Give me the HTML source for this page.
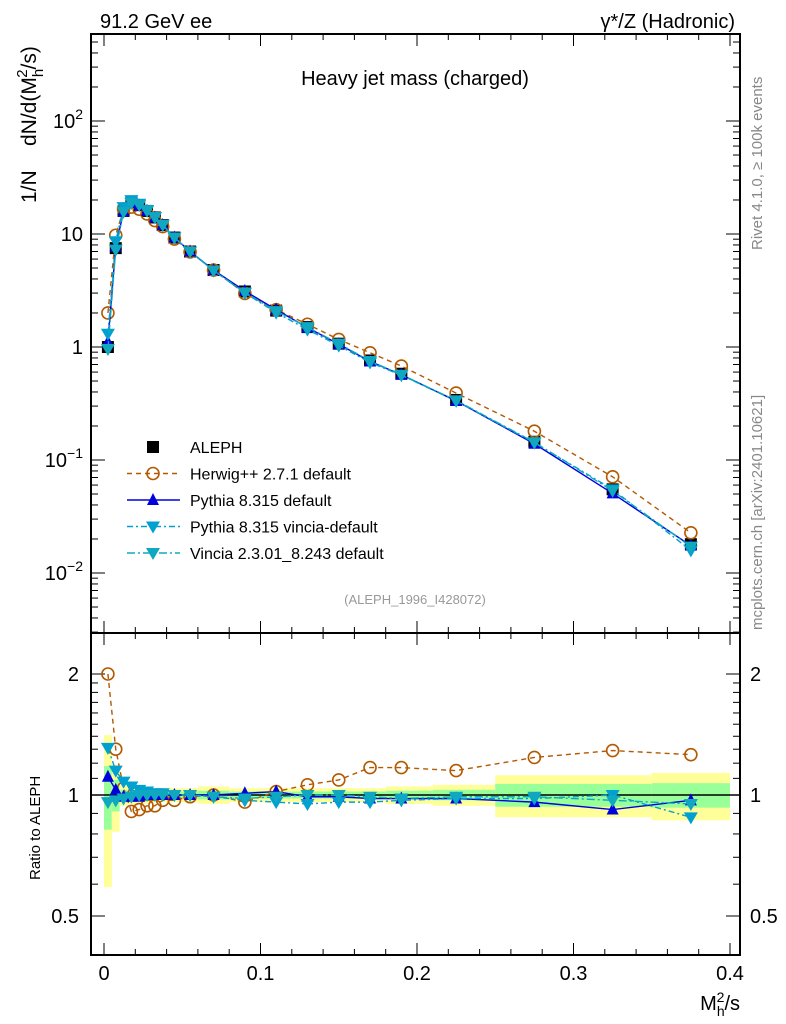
<!DOCTYPE html>
<html><head><meta charset="utf-8">
<style>
body{margin:0;background:#fff;}
svg{display:block;font-family:"Liberation Sans",sans-serif;}
</style></head>
<body>
<svg id="chart" width="786" height="1024" viewBox="0 0 786 1024" xmlns="http://www.w3.org/2000/svg">
<text x="100" y="28" font-size="20">91.2 GeV ee</text>
<text x="735" y="28" font-size="20" text-anchor="end">γ*/Z (Hadronic)</text>
<text x="415" y="85" font-size="20" text-anchor="middle">Heavy jet mass (charged)</text>
<text x="415" y="604" font-size="13" fill="#999" text-anchor="middle">(ALEPH_1996_I428072)</text>
<text transform="translate(762,250) rotate(-90)" font-size="15" fill="#888">Rivet 4.1.0, ≥ 100k events</text>
<text transform="translate(762,630) rotate(-90)" font-size="15" fill="#888">mcplots.cern.ch [arXiv:2401.10621]</text>
<g transform="translate(36,203) rotate(-90)">
<text x="0" y="0" font-size="21">1/N</text>
<text x="57" y="0" font-size="21">dN/d(M<tspan dy="7" font-size="15">h</tspan><tspan dy="-16" dx="-9" font-size="15">2</tspan><tspan dy="9">/s)</tspan></text>
</g>
<text transform="translate(40,880) rotate(-90)" font-size="15">Ratio to ALEPH</text>
<text x="740" y="1010" font-size="20" text-anchor="end">M<tspan dy="6" font-size="14">h</tspan><tspan dy="-14" dx="-8" font-size="14">2</tspan><tspan dy="8">/s</tspan></text>
<g id="g"></g>
</svg>
<script>
const xs=[0.0025,0.0075,0.0125,0.0175,0.0225,0.0275,0.0325,0.0375,0.045,0.055,0.07,0.09,0.11,0.13,0.15,0.17,0.19,0.225,0.275,0.325,0.375];
const aleph=[1.0,7.5,16,19,18,16,14,12,9.3,7,4.8,3.1,2.1,1.5,1.07,0.76,0.58,0.34,0.145,0.055,0.018];
const herwigRatio=[2.0,1.3,1.04,0.91,0.92,0.94,0.94,0.97,0.97,0.99,1.0,0.96,1.02,1.06,1.09,1.17,1.17,1.15,1.24,1.29,1.26];
const pythiaRatio=[1.11,1.03,0.99,0.99,0.99,1.0,1.0,1.0,1.0,1.0,1.0,1.01,1.02,0.99,0.99,0.98,0.98,0.98,0.96,0.92,0.97];
const vdefRatio=[1.31,1.15,1.08,1.05,1.03,1.02,1.01,1.01,1.0,1.0,0.99,0.97,0.96,0.95,0.96,0.96,0.97,0.98,0.98,1.0,0.88];
const vinciaRatio=[0.96,0.97,0.98,0.99,1.0,1.0,1.0,1.0,1.0,1.0,0.99,0.98,0.99,1.0,1.0,0.99,0.98,0.99,0.99,0.97,0.95];
const binEdges=[0,0.005,0.01,0.015,0.02,0.025,0.03,0.035,0.04,0.05,0.06,0.08,0.10,0.12,0.14,0.16,0.18,0.21,0.25,0.30,0.35,0.40];
const yellowHalf=[0.41,0.19,0.06,0.05,0.05,0.05,0.04,0.04,0.04,0.04,0.05,0.04,0.04,0.04,0.04,0.04,0.05,0.06,0.12,0.12,0.135];
const greenHalf=[0.18,0.09,0.03,0.025,0.025,0.025,0.02,0.02,0.02,0.02,0.025,0.02,0.02,0.02,0.02,0.02,0.025,0.03,0.065,0.065,0.07];
const xTicks=[0,0.1,0.2,0.3,0.4];
const xTickLabels=["0","0.1","0.2","0.3","0.4"];

const NS="http://www.w3.org/2000/svg";
const g=document.getElementById('g');
const L=91,R=740,T=34,MB=633,RB=955;
const X=v=>104+v*1565;
const Y=v=>347-113*Math.log10(v);
const YR=v=>795-121*Math.log2(v);
function el(tag,attrs,parent){const e=document.createElementNS(NS,tag);for(const k in attrs)e.setAttribute(k,attrs[k]);(parent||g).appendChild(e);return e;}

binEdges.slice(0,-1).forEach((e0,i)=>{
  const e1=binEdges[i+1];
  const y1=el('rect',{x:X(e0),y:YR(1+yellowHalf[i]),width:X(e1)-X(e0),height:YR(1-yellowHalf[i])-YR(1+yellowHalf[i]),fill:'#ffff99'});
  
  
  const g1=el('rect',{x:X(e0),y:YR(1+greenHalf[i]),width:X(e1)-X(e0),height:YR(1-greenHalf[i])-YR(1+greenHalf[i]),fill:'#99ff99'});
  
  
});
el('line',{x1:L,x2:R,y1:YR(1),y2:YR(1),stroke:'#000','stroke-width':1.5});

[[T,MB],[MB,RB]].forEach(([a,b])=>el('rect',{x:L,y:a,width:R-L,height:b-a,fill:'none',stroke:'#000','stroke-width':2}));

for(let v=0;v<=0.4001;v+=0.02){
  const big=Math.abs(v*10-Math.round(v*10))<1e-6, len=big?12:6;
  [T,MB].forEach(y0=>{el('line',{x1:X(v),x2:X(v),y1:y0,y2:y0+len,stroke:'#000'});});
  [MB,RB].forEach(y0=>{el('line',{x1:X(v),x2:X(v),y1:y0,y2:y0-len,stroke:'#000'});});
}
xTicks.forEach((v,i)=>{const t=el('text',{x:X(v),y:980,'font-size':20,'text-anchor':'middle'});t.textContent=xTickLabels[i];

});

for(let d=-3;d<=2;d++)for(let m=1;m<10;m++){
  const v=m*Math.pow(10,d),y=Y(v); if(y<T||y>MB)continue;
  const len=m==1?14:7;
  el('line',{x1:L,x2:L+len,y1:y,y2:y,stroke:'#000'});el('line',{x1:R,x2:R-len,y1:y,y2:y,stroke:'#000'});
}
[[1,'1'],[10,'10']].forEach(([v,s])=>{const t=el('text',{x:83,y:Y(v)+7,'font-size':20,'text-anchor':'end'});t.textContent=s;

});
[[100,'2'],[0.1,'−1'],[0.01,'−2']].forEach(([v,s])=>{const t=el('text',{x:83,y:Y(v)+7,'font-size':20,'text-anchor':'end'});t.innerHTML='10<tspan dy="-9" font-size="14">'+s+'</tspan>';

});
[0.5,0.6,0.7,0.8,0.9,1,1.1,1.2,1.3,1.4,1.5,1.6,1.7,1.8,1.9,2].forEach(v=>{
  const y=YR(v),len=(v==0.5||v==1||v==2)?14:7;
  el('line',{x1:L,x2:L+len,y1:y,y2:y,stroke:'#000'});el('line',{x1:R,x2:R-len,y1:y,y2:y,stroke:'#000'});
});
[[2,'2'],[1,'1'],[0.5,'0.5']].forEach(([v,s])=>{
  const t=el('text',{x:79,y:YR(v)+7,'font-size':20,'text-anchor':'end'});t.textContent=s;
  
  
  const t2=el('text',{x:750,y:YR(v)+7,'font-size':20});t2.textContent=s;
  
  
});

function marker(type,x,y,color,name){
  let m;
  if(type=='square')m=el('rect',{x:x-6,y:y-6,width:12,height:12,fill:'#000'});
  else if(type=='circle')m=el('circle',{cx:x,cy:y,r:6,fill:'none',stroke:color,'stroke-width':1.6});
  else if(type=='up')m=el('polygon',{points:`${x},${y-7} ${x-6},${y+5} ${x+6},${y+5}`,fill:color});
  else m=el('polygon',{points:`${x},${y+7} ${x-7},${y-5} ${x+7},${y-5}`,fill:color});
  
  
}
const series=[
 {r:herwigRatio,c:'#b35900',dash:'5,4',mk:'circle',n:'herwig'},
 {r:pythiaRatio,c:'#0000dd',dash:'',mk:'up',n:'pythia'},
 {r:vdefRatio,c:'#00a0d0',dash:'6,3,2,3',mk:'down',n:'pythia-vincia'},
 {r:vinciaRatio,c:'#10a8c0',dash:'8,3,2,3',mk:'down',n:'vincia'}];
xs.forEach((x,i)=>marker('square',X(x),Y(aleph[i]),'#000','aleph-point'));
series.forEach(s=>{
  const pm=xs.map((x,i)=>X(x)+','+Y(aleph[i]*s.r[i])).join(' ');
  const l1=el('polyline',{points:pm,fill:'none',stroke:s.c,'stroke-width':1.4,'stroke-dasharray':s.dash});
  
  
  const pr=xs.map((x,i)=>X(x)+','+YR(s.r[i])).join(' ');
  const l2=el('polyline',{points:pr,fill:'none',stroke:s.c,'stroke-width':1.4,'stroke-dasharray':s.dash});
  
  
  xs.forEach((x,i)=>{marker(s.mk,X(x),Y(aleph[i]*s.r[i]),s.c,s.n+'-point');marker(s.mk,X(x),YR(s.r[i]),s.c,s.n+'-ratio-point');});
});
const leg=[['square','#000','','ALEPH'],['circle','#b35900','5,4','Herwig++ 2.7.1 default'],['up','#0000dd','','Pythia 8.315 default'],['down','#00a0d0','6,3,2,3','Pythia 8.315 vincia-default'],['down','#10a8c0','8,3,2,3','Vincia 2.3.01_8.243 default']];
leg.forEach((l,i)=>{
  const y=447+i*26.5;
  if(i>0){const ln=el('line',{x1:127,x2:180,y1:y,y2:y,stroke:l[1],'stroke-width':1.4,'stroke-dasharray':l[2]});
  
  }
  marker(l[0],153,y,l[1],'legend-marker');
  const t=el('text',{x:190,y:y+6,'font-size':16});t.textContent=l[3];
  
  
});
</script>
</body></html>
